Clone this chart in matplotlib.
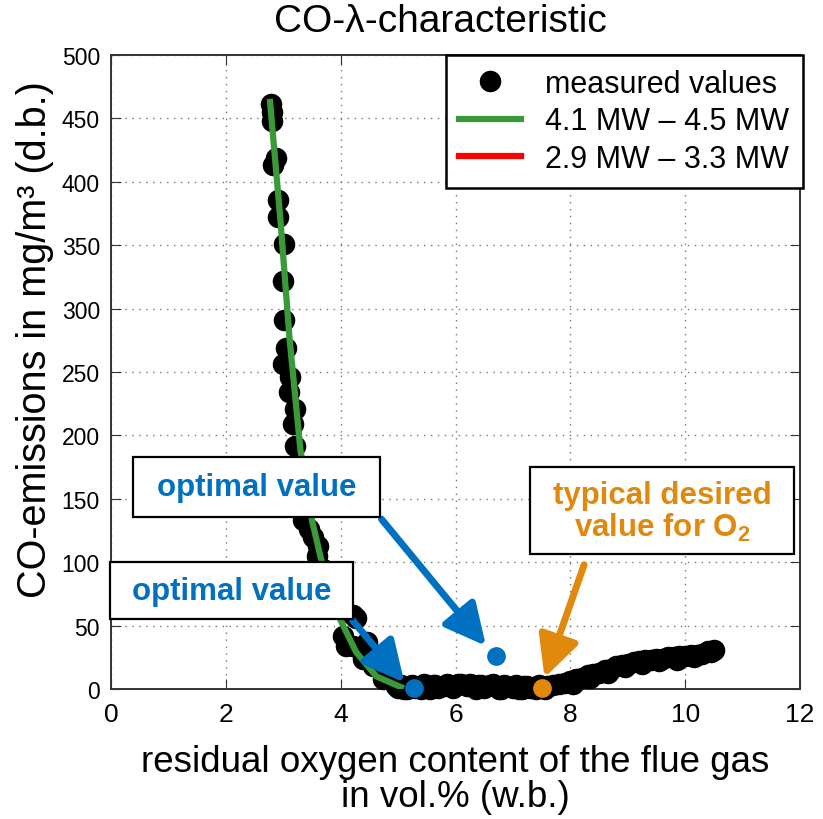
import matplotlib
matplotlib.use("Agg")
import matplotlib.pyplot as plt
from matplotlib.patches import Rectangle

# measured values: O2 (vol.%) and CO (mg/m3)
upper_o2 = [2.79, 2.80, 2.81, 2.88, 2.82, 2.91, 2.91, 3.01, 3.00, 3.01, 3.05, 3.00, 3.11, 3.10,
            3.20, 3.17, 3.20, 3.25, 3.28, 3.31, 3.34, 3.45, 3.52, 3.61, 3.58, 3.70, 3.80, 3.92,
            4.21, 4.27, 4.04, 4.10, 4.21, 4.45, 4.39, 4.39, 4.56, 4.68, 4.74, 4.85, 4.97]
upper_co = [461, 455, 448, 419, 413, 386, 372, 351, 322, 291, 269, 256, 246, 234,
            221, 209, 192, 175, 160, 145, 133, 126, 120, 113, 105, 95, 82, 70,
            58, 56, 42, 34, 34, 37, 26, 24, 18, 16, 8, 8, 2]
flat_o2 = [5.0, 5.1, 5.2, 5.3, 5.4, 5.5, 5.6, 5.7, 5.8, 5.9, 6.0, 6.1, 6.2, 6.3, 6.4, 6.5, 6.6,
           6.7, 6.8, 6.9, 7.0, 7.1, 7.2, 7.3, 7.4, 7.5, 7.6,
           5.05, 5.25, 5.45, 5.65, 5.85, 6.05, 6.25, 6.45, 6.65, 6.85, 7.05, 7.25, 7.45,
           5.15, 5.55, 5.95, 6.35, 6.75, 7.15, 7.55]
flat_co = [1, 0, 2, 1, 0, 2, 3, 1, 2, 3, 3, 4, 2, 3, 3, 1, 3,
           2, 0, 2, 1, 0, 2, 1, 0, 1, 2,
           3, 3, 4, 3, 4, 4, 4, 3, 4, 3, 3, 2, 3,
           0, 0, 1, 0, 0, 0, 0]
rise_o2 = [7.7, 7.8, 7.9, 8.0, 8.1, 8.2, 8.3, 8.4, 8.5, 8.6, 8.7, 8.8, 8.9, 9.0, 9.1, 9.2,
           9.3, 9.4, 9.5, 9.6, 9.7, 9.8, 9.9, 10.0, 10.1, 10.2, 10.3, 10.4, 10.5,
           8.05, 8.35, 8.65, 8.95, 9.25, 9.55, 9.85, 10.15, 10.45]
rise_co = [3, 4, 5, 6, 8, 9, 11, 12, 13, 15, 16, 18, 19, 20, 21, 22,
           23, 23, 24, 24, 25, 25, 26, 26, 27, 27, 28, 30, 31,
           4, 9, 13, 17, 20, 22, 23, 25, 29]

# fitted curve 4.1 MW - 4.5 MW
fit_o2 = [2.77, 2.95, 3.11, 3.30, 3.50, 3.65, 3.80, 4.00, 4.27, 4.62, 5.05]
fit_co = [463, 370, 276, 188, 133, 104, 80, 54, 29, 10, 1.5]

# highlighted points
opt_o2 = [5.28, 6.70]
opt_co = [1, 26]
des_o2 = [7.50]
des_co = [1]

blue = "#0070C0"
orange = "#E0890C"
green = "#3A9A3A"

plt.rcParams["font.family"] = ["Liberation Sans", "DejaVu Sans"]
plt.rcParams["mathtext.fontset"] = "custom"
plt.rcParams["mathtext.rm"] = "Liberation Sans:bold"
plt.rcParams["mathtext.bf"] = "Liberation Sans:bold"

fig = plt.figure(figsize=(8.23, 8.20), dpi=100)
ax = fig.add_axes([0.1349, 0.1585, 0.8372, 0.7732])

ax.plot(upper_o2 + flat_o2 + rise_o2, upper_co + flat_co + rise_co, "o", color="black",
        markersize=15.5, markeredgewidth=0, label="measured values", clip_on=False, zorder=3)
ax.plot(fit_o2, fit_co, color=green, lw=4.5, label="4.1 MW \u2013 4.5 MW", zorder=4)
ax.plot([], [], color="red", lw=4.5, label="2.9 MW \u2013 3.3 MW")
ax.plot(opt_o2, opt_co, "o", color=blue, markersize=13.5, markeredgewidth=0, clip_on=False, zorder=5)
ax.plot(des_o2, des_co, "o", color=orange, markersize=13.5, markeredgewidth=0, clip_on=False, zorder=5)

ax.set_xlim(0, 12)
ax.set_ylim(0, 500)
ax.set_xticks(range(0, 13, 2))
ax.set_yticks(range(0, 501, 50))
ax.grid(True, linestyle=(0, (1, 4)), color="#777777", lw=1)
ax.tick_params(direction="in", length=7, top=True, right=True, color="#333333")
ax.tick_params(axis="y", labelsize=16.5, pad=8)
ax.tick_params(axis="x", labelsize=19, pad=9)
for s in ax.spines.values():
    s.set_color("#333333")
    s.set_linewidth(1.4)

fig.text(0.535, 0.973, "CO-\u03bb-characteristic", fontsize=28, ha="center", va="center")
ax.set_xlabel("residual oxygen content of the flue gas\nin vol.% (w.b.)",
              fontsize=26.5, linespacing=1.0, labelpad=13)
ax.set_ylabel("CO-emissions in mg/m\u00b3 (d.b.)", fontsize=28.5)
ax.yaxis.set_label_coords(-0.083, 0.552)

leg = ax.legend(loc="upper right", fontsize=22, borderaxespad=0, fancybox=False,
                edgecolor="black", framealpha=1, handlelength=2, handletextpad=0.8,
                labelspacing=0.25, borderpad=0.45, bbox_to_anchor=(1.004, 1.0))
leg.get_frame().set_linewidth(1.8)

arrow_kw = dict(arrowstyle="-|>,head_length=1.0,head_width=0.5", lw=5, mutation_scale=25,
                shrinkA=0, shrinkB=0)
ax.annotate("", xy=(6.53, 34), xytext=(4.71, 134),
            arrowprops=dict(color=blue, **arrow_kw), zorder=6)
ax.annotate("", xy=(5.11, 5), xytext=(4.21, 54),
            arrowprops=dict(color=blue, **arrow_kw), zorder=6)
ax.annotate("", xy=(7.55, 9), xytext=(8.24, 98),
            arrowprops=dict(color=orange, **arrow_kw), zorder=6)

# annotation boxes (data coords: x0, y0, width, height)
for x0, y0, w, h in [(0.383, 135.6, 4.295, 47.4), (-0.017, 55.2, 4.226, 45.0),
                     (7.304, 106.5, 4.592, 68.6)]:
    ax.add_patch(Rectangle((x0, y0), w, h, facecolor="white", edgecolor="black", lw=1.6,
                           clip_on=False, zorder=7))

ax.text(2.53, 159.3, "optimal value", color=blue, fontsize=22.5, fontweight="bold",
        ha="center", va="center", zorder=8)
ax.text(2.11, 77.3, "optimal value", color=blue, fontsize=22.5, fontweight="bold",
        ha="center", va="center", zorder=8)
ax.text(9.6, 140, "typical desired\nvalue for O$_{\\mathbf{2}}$", color=orange, fontsize=22.5,
        fontweight="bold", ha="center", va="center", zorder=8, linespacing=1.05)

fig.savefig("out.png", dpi=100)
